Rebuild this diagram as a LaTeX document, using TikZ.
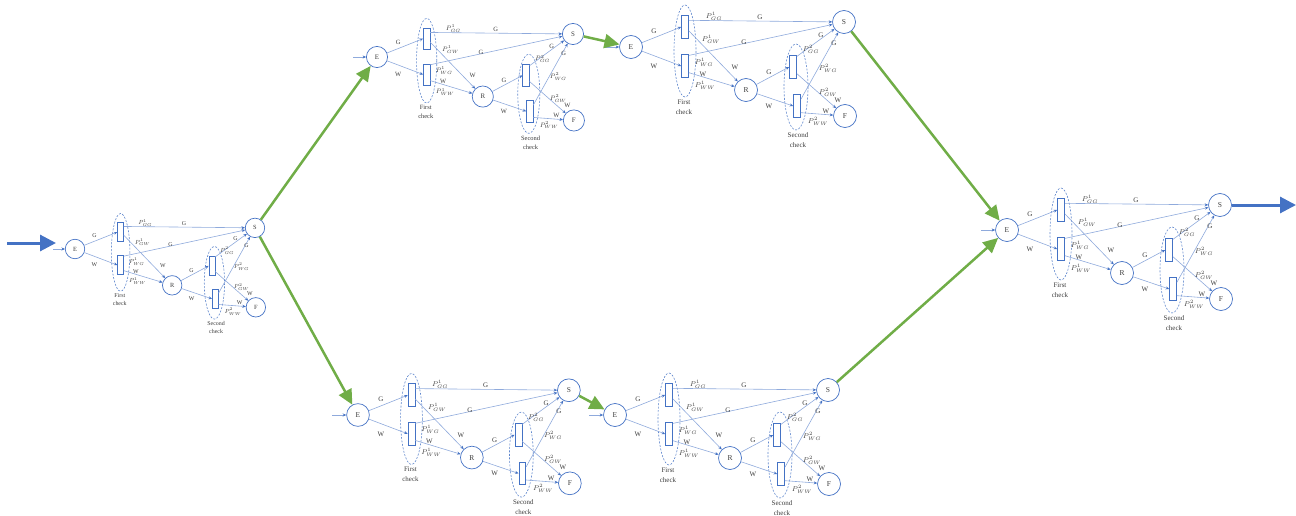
\documentclass[tikz,border=0pt]{standalone}
\usepackage{fontspec}
\setmainfont{Liberation Serif}
\usetikzlibrary{arrows.meta}
\definecolor{linkblue}{RGB}{143,170,220}
\definecolor{nodeblue}{RGB}{68,114,196}
\definecolor{passgreen}{RGB}{112,173,71}
\definecolor{labelgray}{RGB}{60,60,60}
\begin{document}
\begin{tikzpicture}[x=1pt,y=-1pt,
  state/.style={circle,draw=nodeblue,line width=0.7pt,minimum size=23pt,inner sep=0pt,text=labelgray,font=\fontsize{7.5}{9}\selectfont},
  checkbox/.style={rectangle,draw=nodeblue,fill=white,line width=0.7pt,minimum width=7pt,minimum height=23pt,inner sep=0pt},
  lbl/.style={inner sep=0pt,text=labelgray,font=\fontsize{7}{10}\selectfont},
  flow/.style={draw=linkblue,line width=0.6pt,-{Stealth[length=3.5pt,width=3pt,color=nodeblue]}},
  checkzone/.style={draw=nodeblue!85,line width=0.6pt,dash pattern=on 2pt off 1.5pt},
  transfer/.style={draw=passgreen,line width=2.5pt,-{Triangle[length=15pt,width=14pt]}},
  mainflow/.style={draw=nodeblue,line width=3pt,-{Triangle[length=16pt,width=16pt]}}]
\useasboundingbox (0,0) rectangle (1296,516);
\foreach \m/\x/\y/\s in {L/75/249/0.845,TM/377/57/0.92,TR/631/47/1,BL/358/415/0.99,BR/615/415/1,RT/1007/230/1}{
\begin{scope}[shift={(\x,\y)},scale=\s,transform shape]
\draw[checkzone] (54,4) ellipse (11 and 46);
\draw[checkzone] (165,40) ellipse (12 and 43);
\node[state] (\m-E) at (0,0) {E};
\node[checkbox] (\m-c1) at (54,-20) {};
\node[checkbox] (\m-c2) at (54,19) {};
\node[state] (\m-R) at (115,43) {R};
\node[checkbox] (\m-c3) at (162,20) {};
\node[checkbox] (\m-c4) at (166,59) {};
\node[state] (\m-S) at (213,-25) {S};
\node[state] (\m-F) at (214,69) {F};
\node[lbl,align=center] (\m-first) at (53,60) {First\\check};
\node[lbl,align=center] (\m-second) at (167,93) {Second\\check};
\coordinate (\m-in) at (-26,0);
\draw[flow] (\m-in) -- (\m-E);
\draw[flow] (\m-E) -- (\m-c1.west);
\draw[flow] (\m-E) -- (\m-c2.west);
\draw[flow] (\m-c1.60) -- (\m-S);
\draw[flow] (\m-c1.-45) -- (\m-R);
\draw[flow] (\m-c2.70) -- (\m-S);
\draw[flow] (\m-c2.-60) -- (\m-R);
\draw[flow] (\m-R) -- (\m-c3.west);
\draw[flow] (\m-R) -- (\m-c4.west);
\draw[flow] (\m-c3.70) -- (\m-S);
\draw[flow] (\m-c3.-60) -- (\m-F);
\draw[flow] (\m-c4.60) -- (\m-S);
\draw[flow] (\m-c4.-60) -- (\m-F);
\node[lbl] (\m-la) at (23,-16) {G};
\node[lbl] (\m-lb) at (23,19) {W};
\node[lbl] (\m-lc) at (83,-31) {$P^1_{GG}$};
\node[lbl] (\m-ld) at (129,-30) {G};
\node[lbl] (\m-le) at (80,-8) {$P^1_{GW}$};
\node[lbl] (\m-lf) at (104,20) {W};
\node[lbl] (\m-lg) at (113,-5) {G};
\node[lbl] (\m-lh) at (73,15) {$P^1_{WG}$};
\node[lbl] (\m-li) at (72,27) {W};
\node[lbl] (\m-lj) at (74,38) {$P^1_{WW}$};
\node[lbl] (\m-lk) at (138,25) {G};
\node[lbl] (\m-ll) at (138,59) {W};
\node[lbl] (\m-lm) at (180,2) {$P^2_{GG}$};
\node[lbl] (\m-ln) at (190,-12) {G};
\node[lbl] (\m-lo) at (203,-4) {G};
\node[lbl] (\m-lp) at (197,21) {$P^2_{WG}$};
\node[lbl] (\m-lq) at (197,45) {$P^2_{GW}$};
\node[lbl] (\m-lr) at (207,53) {W};
\node[lbl] (\m-ls) at (195,64) {W};
\node[lbl] (\m-lt) at (187,74) {$P^2_{WW}$};
\end{scope}
}
\draw[transfer] (L-S) -- (TM-E);
\draw[transfer] (L-S) -- (BL-E);
\draw[transfer] (TM-S) -- (TR-E);
\draw[transfer] (BL-S) -- (BR-E);
\draw[transfer] (TR-S) -- (RT-E);
\draw[transfer] (BR-S) -- (RT-E);
\coordinate (source) at (7,243);
\coordinate (entry) at (56,243);
\coordinate (sink) at (1296,205);
\draw[mainflow] (source) -- (entry);
\draw[mainflow] (RT-S) -- (sink);
\end{tikzpicture}
\end{document}
